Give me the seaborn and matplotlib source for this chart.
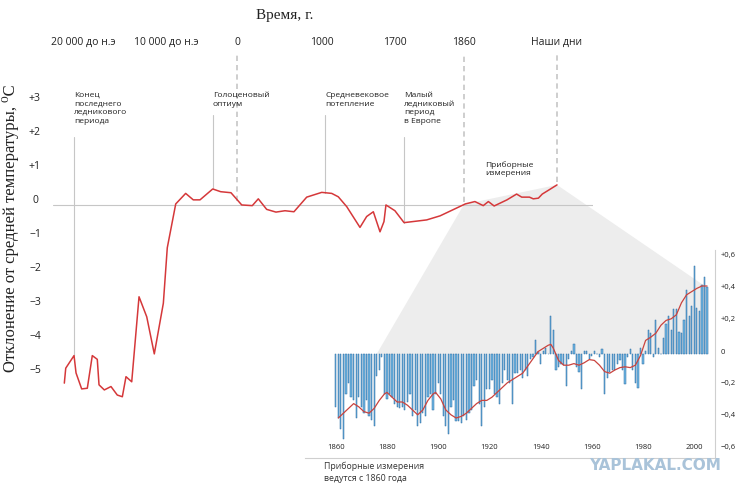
import numpy as np
import matplotlib
matplotlib.use('Agg')
import matplotlib.pyplot as plt
import matplotlib.transforms as mtransforms
from matplotlib.patches import Polygon
import seaborn as sns

sns.set_style('white')
plt.rcParams['font.family'] = ['Open Sans', 'DejaVu Sans']
SERIF = ['Liberation Serif', 'DejaVu Serif']

# -----------------------
# reconstruction, 22 000 BC .. today (year, deviation degC)

main_years = [-22250, -22080, -21080, -20840, -20160, -19480, -18880, -18280,
              -18070, -17430, -16630, -15870, -15260, -14820, -14130, -13250,
              -12320, -11410, -10320, -9820, -8630, -7230, -6160, -5210,
              -3420, -2300, -850, 56, 181, 252, 351, 461, 568, 674, 825,
              1002, 1098, 1161, 1242, 1369, 1433, 1497, 1561, 1599, 1618,
              1701, 1722, 1774, 1805, 1862, 1877, 1890, 1898, 1907, 1927,
              1942, 1950, 1962, 1968, 1976, 1982, 1994, 2005]
main_temps = [-5.24, -4.80, -4.43, -4.94, -5.41, -5.39, -4.43, -4.54,
              -5.29, -5.44, -5.34, -5.59, -5.64, -5.05, -5.20, -2.70,
              -3.29, -4.38, -2.89, -1.26, 0.03, 0.34, 0.15, 0.15,
              0.47, 0.39, 0.36, 0.00, -0.02, 0.18, -0.13, -0.21, -0.17, -0.20, 0.23,
              0.37, 0.34, 0.24, -0.05, -0.66, -0.34, -0.20, -0.79, -0.49, 0.00,
              -0.17, -0.52, -0.44, -0.32, 0.03, 0.10, -0.02, 0.10, -0.03, 0.15,
              0.32, 0.23, 0.23, 0.18, 0.20, 0.32, 0.46, 0.59]

# instrumental record 1860..2005
bar_years = list(range(1860, 2006))
bar_vals = [
    -0.33, -0.40, -0.47, -0.53, -0.25, -0.18, -0.27, -0.29, -0.40, -0.27,
    -0.33, -0.37, -0.29, -0.39, -0.41, -0.45, -0.14, -0.10, -0.02, -0.25,
    -0.28, -0.25, -0.27, -0.31, -0.33, -0.34, -0.33, -0.35, -0.30, -0.25,
    -0.39, -0.35, -0.45, -0.43, -0.37, -0.39, -0.27, -0.25, -0.35, -0.25,
    -0.18, -0.25, -0.39, -0.45, -0.50, -0.33, -0.29, -0.42, -0.42, -0.43,
    -0.39, -0.41, -0.37, -0.35, -0.20, -0.16, -0.31, -0.45, -0.33, -0.22,
    -0.22, -0.16, -0.25, -0.27, -0.31, -0.18, -0.10, -0.16, -0.18, -0.31,
    -0.12, -0.12, -0.10, -0.15, -0.10, -0.14, -0.03, -0.02, 0.09, 0.01,
    -0.06, 0.02, 0.04, 0.00, 0.24, 0.15, -0.10, -0.08, -0.06, -0.07,
    -0.20, -0.03, 0.02, 0.06, -0.08, -0.11, -0.22, 0.02, 0.02, -0.03,
    -0.01, 0.02, 0.00, -0.02, 0.03, -0.25, -0.15, -0.11, -0.10, -0.10,
    -0.06, -0.04, -0.10, -0.19, -0.02, 0.03, -0.10, -0.18, -0.21, 0.04,
    -0.06, 0.02, 0.15, 0.13, -0.02, 0.21, 0.04, 0.00, 0.10, 0.19,
    0.24, 0.15, 0.28, 0.28, 0.14, 0.13, 0.21, 0.40, 0.24, 0.30,
    0.55, 0.29, 0.27, 0.43, 0.48, 0.42]

smooth_years = [1861, 1863, 1865, 1867, 1869, 1871, 1873, 1875, 1877, 1879,
                1880, 1882, 1884, 1886, 1888, 1890, 1892, 1894, 1896, 1898,
                1899, 1901, 1903, 1905, 1907, 1909, 1911, 1913, 1915, 1917,
                1919, 1921, 1923, 1925, 1927, 1929, 1931, 1933, 1935, 1937,
                1939, 1941, 1943, 1944, 1945, 1947, 1949, 1951, 1953, 1955,
                1957, 1959, 1961, 1963, 1965, 1967, 1969, 1971, 1973, 1975,
                1977, 1979, 1981, 1983, 1985, 1987, 1989, 1991, 1993, 1995,
                1997, 1999, 2001, 2003, 2005]
smooth_vals = [-0.40, -0.37, -0.34, -0.31, -0.33, -0.36, -0.37, -0.34, -0.29, -0.25,
               -0.24, -0.27, -0.30, -0.30, -0.32, -0.35, -0.38, -0.35, -0.29, -0.25,
               -0.24, -0.28, -0.35, -0.38, -0.40, -0.39, -0.37, -0.34, -0.31, -0.29,
               -0.29, -0.27, -0.24, -0.21, -0.18, -0.16, -0.14, -0.12, -0.075, -0.03,
               0.015, 0.035, 0.055, 0.06, 0.035, -0.04, -0.07, -0.07, -0.06, -0.07,
               -0.055, -0.035, -0.04, -0.07, -0.11, -0.12, -0.10, -0.085, -0.08, -0.085,
               -0.07, -0.01, 0.085, 0.105, 0.13, 0.18, 0.21, 0.22, 0.245, 0.32,
               0.37, 0.39, 0.41, 0.425, 0.425]

tick_years = [-20000, -10000, 0, 1000, 1700, 1860, 2005]
tick_labels = ['20 000 до н.э', '10 000 до н.э', '0', '1000', '1700', '1860', 'Наши дни']
temp_ticks = [3, 2, 1, 0, -1, -2, -3, -4, -5]
temp_labels = ['+3', '+2', '+1', '0', '−1', '−2', '−3', '−4', '−5']
inset_xticks = [1860, 1880, 1900, 1920, 1940, 1960, 1980, 2000]
inset_ticks = [0.6, 0.4, 0.2, 0, -0.2, -0.4, -0.6]
inset_labels = ['+0,6', '+0,4', '+0,2', '0', '−0,2', '−0,4', '−0,6']

events = [(-21080, 'Конец\nпоследнего\nледникового\nпериода', 2.0),
          (-3420, 'Голоценовый\nоптиум', 2.65),
          (1034, 'Средневековое\nпотепление', 2.65),
          (1722, 'Малый\nледниковый\nпериод\nв Европе', 2.0)]
marks = [0, 1860, 2005]

# -----------------------
# piecewise time axis (breakpoints of the original drawing)
scale_years = [-25000, -20000, -10000, 0, 1000, 1700, 1860, 2005, 2100]
scale_pos = [41.5, 83, 166, 237, 321.5, 394.5, 464, 557, 618]

def fwd(x):
    return np.interp(x, scale_years, scale_pos)

def inv(p):
    return np.interp(p, scale_pos, scale_years)

W, H = 749, 497
fig = plt.figure(figsize=(W / 100, H / 100), dpi=100)

def px_box(l, t, r, b):
    return [l / W, 1 - b / H, (r - l) / W, (b - t) / H]

TXT = '#222222'
GREY = '#c6c6c6'

ax = fig.add_axes(px_box(53, 55, 593, 410))
ax.patch.set_alpha(0)
ax.set_xscale('function', functions=(fwd, inv))

ax.axhline(0, color=GREY, lw=0.8, zorder=1)
sns.lineplot(x=main_years, y=main_temps, ax=ax, color='#d5383a', lw=1.1, zorder=3)

ax.set_xlim(inv(53), inv(593))
ax.set_ylim(-6.03, 4.41)

for yr in marks:
    y0 = np.interp(yr, main_years, main_temps) + 0.08
    ln, = ax.plot([yr, yr], [y0, 4.41], color=GREY, lw=1.2, zorder=2, clip_on=False)
    ln.set_dashes((3.2, 2.4))

for yr, txt, top in events:
    y0 = np.interp(yr, main_years, main_temps)
    ax.plot([yr, yr], [y0, top], color=GREY, lw=0.8, zorder=2)
    ax.text(yr, 3.32, txt, va='top', ha='left', fontsize=6, color=TXT, linespacing=1.3)
ax.text(1893, 1.29, 'Приборные\nизмерения', va='top', ha='left', fontsize=6,
        color=TXT, linespacing=1.3)

ax.xaxis.tick_top()
ax.set_xticks(tick_years, tick_labels)
ax.tick_params(axis='x', length=0, pad=5, labelsize=7.5, labelcolor=TXT)
ax.set_yticks(temp_ticks, temp_labels)
ax.tick_params(axis='y', length=0, pad=13, labelsize=7.5, labelcolor=TXT)
up = mtransforms.ScaledTranslation(0, 6 / 100, fig.dpi_scale_trans)
for lbl in ax.get_yticklabels():
    lbl.set_horizontalalignment('center')
    lbl.set_transform(lbl.get_transform() + up)
ax.set(xlabel='', ylabel='')
for s in ax.spines.values():
    s.set_visible(False)

# -----------------------
# inset: instrumental measurements

ax2 = fig.add_axes(px_box(305, 250, 715, 458))
ax2.patch.set_alpha(0)
sns.barplot(x=bar_years, y=bar_vals, native_scale=True, orient='x', errorbar=None,
            color='#72b8e4', edgecolor='#2a6ba3', linewidth=0.35, width=0.48,
            saturation=1, ax=ax2, zorder=2)
sns.lineplot(x=smooth_years, y=smooth_vals, ax=ax2, color='#c9433e', lw=0.9, zorder=3)
ax2.set_xlim(1848, 2008.1)
ax2.set_ylim(-0.65, 0.65)
ax2.set(xlabel='', ylabel='')

for side in ['top', 'left']:
    ax2.spines[side].set_visible(False)
for side in ['right', 'bottom']:
    ax2.spines[side].set_color('#cfcfcf')
    ax2.spines[side].set_linewidth(0.8)

ax2.yaxis.tick_right()
ax2.set_yticks(inset_ticks, inset_labels)
ax2.tick_params(axis='y', length=0, pad=4, labelsize=5.5, labelcolor=TXT)
up2 = mtransforms.ScaledTranslation(0, 3 / 100, fig.dpi_scale_trans)
for lbl in ax2.get_yticklabels():
    lbl.set_transform(lbl.get_transform() + up2)
ax2.set_xticks(inset_xticks, [str(t) for t in inset_xticks])
ax2.tick_params(axis='x', length=0, pad=-10, labelsize=5.5, labelcolor=TXT)

# grey zoom wedge from the main curve to the inset
to_fig = fig.transFigure.inverted()
pts = [ax.transData.transform((1860, np.interp(1860, main_years, main_temps))),
       ax.transData.transform((main_years[-1], main_temps[-1])),
       ax2.transData.transform((2005.5, 0.41)),
       ax2.transData.transform((2005.5, 0.0)),
       ax2.transData.transform((1876, 0.0))]
wedge = Polygon(to_fig.transform(np.array(pts)), closed=True, transform=fig.transFigure,
                facecolor='#ededed', edgecolor='none', zorder=-1)
fig.add_artist(wedge)

# -----------------------

fig.text(285 / W, 1 - 15 / H, 'Время, г.', ha='center', va='center',
         family=SERIF, fontsize=11, color=TXT)
fig.text(11 / W, 1 - 228 / H, 'Отклонение от средней температуры, ⁰C', rotation=90,
         ha='center', va='center', family=SERIF, fontsize=12, color=TXT)
fig.text(324 / W, 1 - 462 / H, 'Приборные измерения\nведутся с 1860 года', va='top',
         ha='left', fontsize=6.3, color='#333333', linespacing=1.35)
fig.text(655 / W, 1 - 466 / H, 'YAPLAKAL.COM', ha='center', va='center', fontsize=11,
         weight='bold', color='#a9c3d9', family=['DejaVu Sans'])

fig.savefig('out.png', dpi=100)
